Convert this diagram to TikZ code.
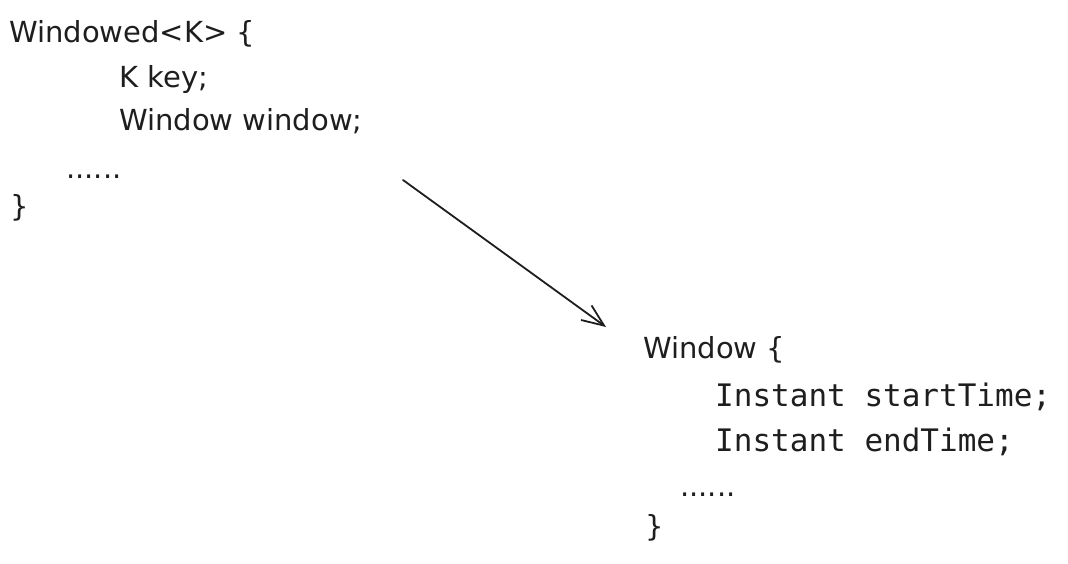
\documentclass[tikz,border=0pt]{standalone}
\usepackage{fontspec}
\setmainfont{DejaVu Sans}
\setmonofont{DejaVu Sans Mono}
\usetikzlibrary{arrows.meta}
\definecolor{Pen}{HTML}{1E1E1E}

\begin{document}
\begin{tikzpicture}[x=1pt,y=-1pt,
    hand/.style={anchor=base west,inner sep=0pt,text=Pen,
      font=\fontsize{29}{34}\selectfont},
    code/.style={anchor=base west,inner sep=0pt,text=Pen,
      font=\ttfamily\fontsize{31}{36}\selectfont}]
  \useasboundingbox (0,0) rectangle (1068,563);

  % outer class
  \node[hand] (windowed) at (9,42) {Windowed<K> \{};
  \node[hand] (key) at (119,87) {K key;};
  \node[hand] (winfield) at (119,130) {Window window;};
  \node[hand] (dotsA) at (66,178) {......};
  \node[hand] (closeA) at (10,216) {\}};

  % inner class
  \node[hand] (window) at (643,358) {Window \{};
  \node[code] (start) at (715,406) {Instant startTime;};
  \node[code] (end) at (715,451) {Instant endTime;};
  \node[hand] (dotsB) at (680,496) {......};
  \node[hand] (closeB) at (645,536) {\}};

  \coordinate (from) at (403,180);
  \coordinate (to) at (606,327);
  \draw[Pen,line width=1.8pt,line cap=round,
    -{Straight Barb[length=22pt,width=18pt,line width=1.8pt]}]
    (from) -- (to);
\end{tikzpicture}
\end{document}
